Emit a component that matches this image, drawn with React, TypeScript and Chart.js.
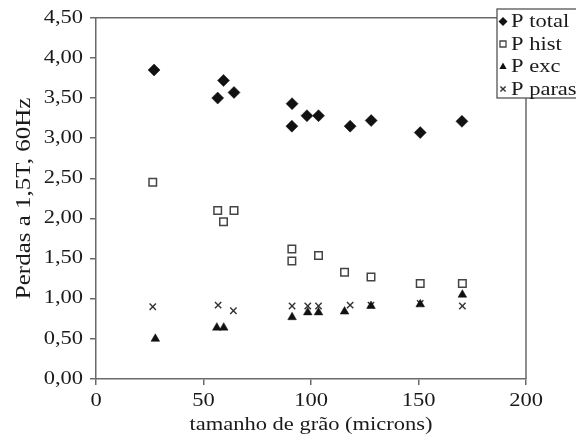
import React, { useEffect, useRef } from 'react';
import { Chart, registerables } from 'chart.js';

Chart.register(...registerables);

// ---- data ----
const SERIES_LABELS = ['P total', 'P hist', 'P exc', 'P paras'];

const GRAIN_TOTAL = [27, 56.6, 59.3, 64.2, 91.2, 91.1, 98.1, 103.5, 118.2, 128, 150.8, 170.2];
const P_TOTAL = [3.85, 3.5, 3.72, 3.57, 3.43, 3.15, 3.28, 3.28, 3.15, 3.22, 3.07, 3.21];

const GRAIN_HIST = [26.4, 56.6, 59.3, 64.2, 91.1, 91.1, 103.5, 115.6, 127.9, 150.8, 170.4];
const P_HIST = [2.45, 2.1, 1.96, 2.1, 1.62, 1.47, 1.54, 1.33, 1.27, 1.19, 1.19];

const GRAIN_EXC = [27.6, 56.2, 59.4, 91.2, 98.5, 103.5, 115.6, 127.9, 150.8, 170.4];
const P_EXC = [0.5, 0.64, 0.64, 0.77, 0.83, 0.83, 0.84, 0.91, 0.93, 1.05];

const GRAIN_PARAS = [26.4, 56.8, 63.9, 91.2, 98.5, 103.5, 118.2, 127.9, 150.8, 170.4];
const P_PARAS = [0.9, 0.92, 0.85, 0.91, 0.91, 0.91, 0.92, 0.92, 0.94, 0.91];

const X_TICK_LABELS = ['0', '50', '100', '150', '200'];
const Y_TICK_LABELS = ['0,00', '0,50', '1,00', '1,50', '2,00', '2,50', '3,00', '3,50', '4,00', '4,50'];
const X_TITLE = 'tamanho de grão (microns)';
const Y_TITLE = 'Perdas a 1,5T, 60Hz';

// ---- styles ----
const FONT = '"Liberation Serif", "Times New Roman", serif';
const TEXT = '#1a1a1a';
const AXIS = '#6a6a6a';
const STRETCH = 1.25;

const pts = (xs: number[], ys: number[]) => xs.map((x, i) => ({ x, y: ys[i] }));

function drawMarker(ctx: CanvasRenderingContext2D, kind: number, x: number, y: number) {
  ctx.save();
  ctx.beginPath();
  if (kind === 0) {
    const r = 4.5;
    ctx.moveTo(x, y - r);
    ctx.lineTo(x + r, y);
    ctx.lineTo(x, y + r);
    ctx.lineTo(x - r, y);
    ctx.closePath();
    ctx.fillStyle = '#111';
    ctx.fill();
  } else if (kind === 1) {
    ctx.rect(x - 3, y - 3, 6, 6);
    ctx.fillStyle = '#fff';
    ctx.fill();
    ctx.strokeStyle = '#444';
    ctx.lineWidth = 1.3;
    ctx.stroke();
  } else if (kind === 2) {
    ctx.moveTo(x, y - 4);
    ctx.lineTo(x + 3.6, y + 2.5);
    ctx.lineTo(x - 3.6, y + 2.5);
    ctx.closePath();
    ctx.fillStyle = '#111';
    ctx.fill();
  } else {
    const r = 2.6;
    ctx.moveTo(x - r, y - r);
    ctx.lineTo(x + r, y + r);
    ctx.moveTo(x + r, y - r);
    ctx.lineTo(x - r, y + r);
    ctx.strokeStyle = '#333';
    ctx.lineWidth = 1.4;
    ctx.stroke();
  }
  ctx.restore();
}

export default function App() {
  const ref = useRef<HTMLCanvasElement>(null);

  useEffect(() => {
    document.body.style.margin = '0';
    const canvas = ref.current;
    if (!canvas) return;
    const ctx = canvas.getContext('2d') as CanvasRenderingContext2D;
    // the reference's serif lettering is horizontally widened
    const origFill = ctx.fillText.bind(ctx);
    (ctx as any).fillText = (text: string, x: number, y: number, maxWidth?: number) => {
      ctx.save();
      ctx.translate(x, y);
      ctx.scale(STRETCH, 1);
      if (maxWidth === undefined) origFill(text, 0, 0);
      else origFill(text, 0, 0, maxWidth * 2);
      ctx.restore();
    };

    const framePlugin = {
      id: 'frame',
      beforeDatasetsDraw(chart: any) {
        const { ctx: c, chartArea: a } = chart;
        c.save();
        c.strokeStyle = AXIS;
        c.lineWidth = 1.5;
        c.beginPath();
        c.moveTo(a.left, a.top);
        c.lineTo(a.right, a.top);
        c.lineTo(a.right, a.bottom);
        c.stroke();
        c.restore();
      },
    };

    const legendPlugin = {
      id: 'boxLegend',
      afterDraw(chart: any) {
        const c = chart.ctx as CanvasRenderingContext2D;
        const left = 497;
        const top = 9;
        const right = 580;
        const bottom = 98;
        c.save();
        c.fillStyle = '#fff';
        c.fillRect(left, top, right - left, bottom - top);
        c.strokeStyle = '#555';
        c.lineWidth = 1.3;
        c.strokeRect(left, top, right - left, bottom - top);
        c.font = `18px ${FONT}`;
        c.textBaseline = 'middle';
        c.textAlign = 'left';
        c.fillStyle = TEXT;
        chart.data.datasets.forEach((ds: any, i: number) => {
          const y = 21.5 + i * 22.5;
          drawMarker(c, i, 503, y);
          c.fillStyle = TEXT;
          c.fillText(ds.label, 511, y + 1);
        });
        c.restore();
      },
    };

    const chart = new Chart(canvas, {
      type: 'scatter',
      data: {
        datasets: [
          {
            label: SERIES_LABELS[0],
            data: pts(GRAIN_TOTAL, P_TOTAL),
            pointStyle: 'rectRot',
            pointRadius: 6,
            backgroundColor: '#111',
            borderColor: '#111',
            borderWidth: 0.5,
          },
          {
            label: SERIES_LABELS[1],
            data: pts(GRAIN_HIST, P_HIST),
            pointStyle: 'rect',
            pointRadius: 5.3,
            backgroundColor: '#fff',
            borderColor: '#444',
            borderWidth: 1.5,
          },
          {
            label: SERIES_LABELS[2],
            data: pts(GRAIN_EXC, P_EXC),
            pointStyle: 'triangle',
            pointRadius: 5,
            backgroundColor: '#111',
            borderColor: '#111',
            borderWidth: 0.5,
          },
          {
            label: SERIES_LABELS[3],
            data: pts(GRAIN_PARAS, P_PARAS),
            pointStyle: 'crossRot',
            pointRadius: 4.5,
            backgroundColor: '#333',
            borderColor: '#333',
            borderWidth: 1.4,
          },
        ],
      },
      options: {
        animation: false,
        responsive: true,
        maintainAspectRatio: false,
        events: [],
        layout: { padding: { top: 16, right: 50, left: 0, bottom: 0 } },
        plugins: {
          legend: { display: false },
          tooltip: { enabled: false },
        },
        scales: {
          x: {
            type: 'linear',
            min: 0,
            max: 200,
            afterFit: (s: any) => {
              s.height = 62;
            },
            ticks: {
              stepSize: 50,
              padding: 5,
              color: TEXT,
              font: { family: FONT, size: 18 },
              callback: (_v: any, i: number) => X_TICK_LABELS[i],
            },
            grid: { drawOnChartArea: false, drawTicks: true, tickLength: 6, color: AXIS, lineWidth: 1.5 },
            border: { display: true, color: AXIS, width: 1.5 },
            title: {
              display: true,
              text: X_TITLE,
              color: TEXT,
              font: { family: FONT, size: 18 },
              padding: { top: 0, bottom: 5 },
            },
          },
          y: {
            type: 'linear',
            min: 0,
            max: 4.5,
            afterFit: (s: any) => {
              s.width = 96;
            },
            ticks: {
              stepSize: 0.5,
              padding: 7,
              color: TEXT,
              font: { family: FONT, size: 18 },
              callback: (_v: any, i: number) => Y_TICK_LABELS[i],
            },
            grid: { drawOnChartArea: false, drawTicks: true, tickLength: 6, color: AXIS, lineWidth: 1.5 },
            border: { display: true, color: AXIS, width: 1.5 },
            title: {
              display: true,
              text: Y_TITLE,
              color: TEXT,
              font: { family: FONT, size: 20 },
              padding: { top: 13, bottom: 0 },
            },
          },
        },
      },
      plugins: [framePlugin, legendPlugin],
    });

    return () => {
      chart.destroy();
    };
  }, []);

  return (
    <div style={{ position: 'relative', width: 576, height: 441 }}>
      <canvas ref={ref} />
    </div>
  );
}
